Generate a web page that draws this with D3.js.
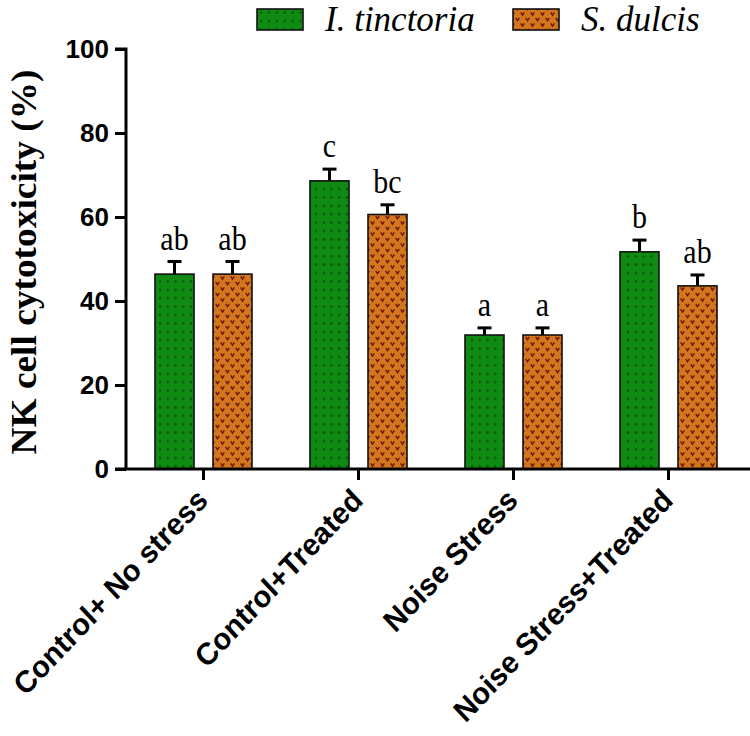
<!DOCTYPE html>
<html>
<head>
<meta charset="utf-8">
<script src="https://cdn.jsdelivr.net/npm/d3@7"></script>
<style>
  html, body { margin: 0; padding: 0; background: #fff; }
  svg { display: block; }
</style>
</head>
<body>
<svg id="chart" width="750" height="736"></svg>
<script>
// ---- data ----
const categories = ["Control+ No stress", "Control+Treated", "Noise Stress", "Noise Stress+Treated"];
const seriesNames = ["I. tinctoria", "S. dulcis"];
const tinctoriaValues = [46.4, 68.6, 31.9, 51.7];
const tinctoriaErrors = [3.0, 2.8, 1.7, 2.8];
const dulcisValues = [46.4, 60.6, 31.9, 43.6];
const dulcisErrors = [3.0, 2.3, 1.7, 2.6];
const tinctoriaLetters = ["ab", "c", "a", "b"];
const dulcisLetters = ["ab", "bc", "a", "ab"];
const yTicks = [0, 20, 40, 60, 80, 100];
const yTitle = "NK cell cytotoxicity (%)";

const series = [
  { name: seriesNames[0], values: tinctoriaValues, errors: tinctoriaErrors, letters: tinctoriaLetters, fill: "url(#patGreen)" },
  { name: seriesNames[1], values: dulcisValues, errors: dulcisErrors, letters: dulcisLetters, fill: "url(#patOrange)" }
];

const svg = d3.select("#chart");

// ---- patterns ----
const defs = svg.append("defs");
const pg = defs.append("pattern").attr("id", "patGreen").attr("patternUnits", "userSpaceOnUse")
  .attr("width", 7.8).attr("height", 8.4);
pg.append("rect").attr("width", 7.8).attr("height", 8.4).attr("fill", "#0f8a12");
pg.append("circle").attr("cx", 3.9).attr("cy", 4.2).attr("r", 1.1).attr("fill", "#0a4a0a");

const po = defs.append("pattern").attr("id", "patOrange").attr("patternUnits", "userSpaceOnUse")
  .attr("width", 10).attr("height", 11);
po.append("rect").attr("width", 10).attr("height", 11).attr("fill", "#d4761e");
[[2.5, 2.75], [7.5, 8.25]].forEach(([cx, cy]) => {
  po.append("path").attr("d", `M${cx-1.8},${cy-1.4} L${cx},${cy+1.4} L${cx+1.8},${cy-1.4}`)
    .attr("fill", "none").attr("stroke", "#6a1608").attr("stroke-width", 1.4);
});

// ---- scales ----
const axisX = 126, yTop = 49, yBottom = 469;
const y = d3.scaleLinear().domain([0, 100]).range([yBottom, yTop]);
const x0 = d3.scaleBand().domain(categories).range([axisX, 746]);
const x1 = d3.scaleBand().domain(seriesNames).range([-48.5, 48.5]).paddingInner(0.3276);

// ---- bars ----
const g = svg.append("g");
series.forEach(s => {
  categories.forEach((c, i) => {
    const cx = x0(c) + x0.bandwidth() / 2;
    const bx = cx + x1(s.name);
    const bw = x1.bandwidth();
    const v = s.values[i], e = s.errors[i];
    g.append("line").attr("x1", bx + bw / 2).attr("x2", bx + bw / 2)
      .attr("y1", y(v)).attr("y2", y(v + e)).attr("stroke", "#000").attr("stroke-width", 3);
    g.append("line").attr("x1", bx + bw / 2 - 7).attr("x2", bx + bw / 2 + 7)
      .attr("y1", y(v + e)).attr("y2", y(v + e)).attr("stroke", "#000").attr("stroke-width", 3);
    g.append("rect").attr("x", bx).attr("y", y(v)).attr("width", bw).attr("height", y(0) - y(v))
      .attr("fill", s.fill).attr("stroke", "#111").attr("stroke-width", 1.6);
    g.append("text").attr("transform", `translate(${bx + bw / 2},${y(v + e) - 12}) scale(1,1.1)`)
      .attr("text-anchor", "middle")
      .style("font-family", "'Liberation Serif', 'Times New Roman', serif")
      .style("font-size", "30px").attr("fill", "#000").text(s.letters[i]);
  });
});

// ---- y axis ----
const yAxis = d3.axisLeft(y).tickValues(yTicks).tickSize(11).tickPadding(6).tickFormat(d3.format("d"));
const ya = svg.append("g").attr("transform", `translate(${axisX},0)`).call(yAxis);
ya.select(".domain").attr("d", `M-11,${yTop}H0V${yBottom}`).attr("stroke", "#000").attr("stroke-width", 3).attr("fill", "none");
ya.selectAll(".tick line").attr("stroke", "#000").attr("stroke-width", 3);
ya.selectAll(".tick text").style("font-family", "'Liberation Sans', Arial, sans-serif")
  .style("font-weight", "bold").style("font-size", "26px").attr("fill", "#000");

// ---- x axis ----
const xAxis = d3.axisBottom(x0).tickSize(11).tickFormat("");
const xa = svg.append("g").attr("transform", `translate(0,${yBottom})`).call(xAxis);
xa.select(".domain").attr("d", `M${axisX - 11},0H750`).attr("stroke", "#000").attr("stroke-width", 3);
xa.selectAll(".tick line").attr("stroke", "#000").attr("stroke-width", 3);

// x labels rotated
svg.append("g").selectAll("text").data(categories).join("text")
  .attr("transform", d => `translate(${x0(d) + x0.bandwidth() / 2 + 6},${yBottom + 33}) scale(1,1.06) rotate(-45)`)
  .attr("text-anchor", "end")
  .style("font-family", "'Liberation Sans', Arial, sans-serif")
  .style("font-weight", "bold").style("font-size", "29px").attr("fill", "#000")
  .text(d => d);

// y title
svg.append("text").attr("transform", `translate(36,${(yTop + yBottom) / 2 + 3}) rotate(-90)`)
  .attr("text-anchor", "middle")
  .attr("textLength", 385).attr("lengthAdjust", "spacingAndGlyphs")
  .style("font-family", "'Liberation Serif', 'Times New Roman', serif")
  .style("font-weight", "bold").style("font-size", "35px").attr("fill", "#000")
  .text(yTitle);

// ---- legend ----
const legendX = [257, 513];
series.forEach((s, i) => {
  svg.append("rect").attr("x", legendX[i]).attr("y", 9).attr("width", 46).attr("height", 21)
    .attr("fill", s.fill).attr("stroke", "#111").attr("stroke-width", 1.6);
  svg.append("text").attr("x", legendX[i] + 68).attr("y", 31)
    .style("font-family", "'Liberation Serif', 'Times New Roman', serif")
    .style("font-style", "italic").style("font-size", "35px").attr("fill", "#000")
    .text(s.name);
});
</script>
</body>
</html>
